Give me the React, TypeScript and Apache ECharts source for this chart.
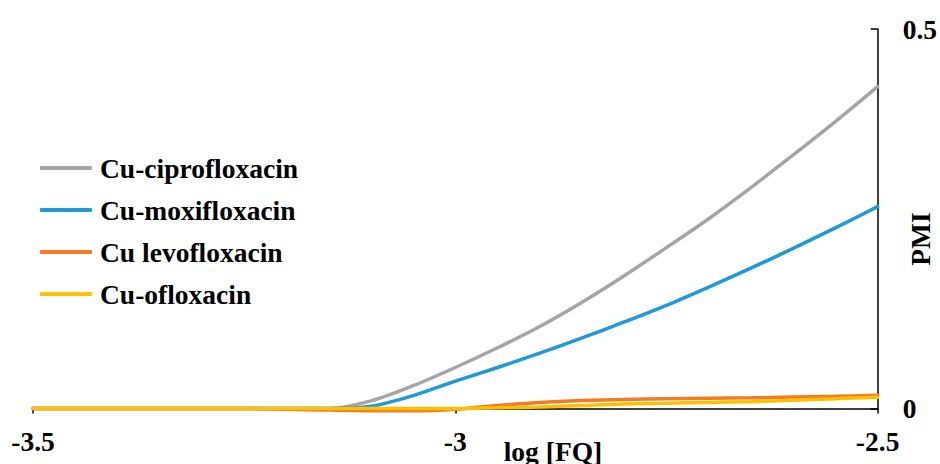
import React, { useEffect, useRef } from "react";
import * as echarts from "echarts";

const xs = [-3.5, -3.45, -3.4, -3.35, -3.3, -3.25, -3.2, -3.15, -3.1, -3.05, -3.0, -2.95, -2.9, -2.85, -2.8, -2.75, -2.7, -2.65, -2.6, -2.55, -2.5];
const ciprofloxacin = [0, 0, 0, 0, 0, 0, 0, 0, 0.01, 0.03, 0.054, 0.08, 0.108, 0.14, 0.175, 0.212, 0.25, 0.291, 0.334, 0.378, 0.424];
const moxifloxacin = [0, 0, 0, 0, 0, 0, 0, 0, 0.003, 0.017, 0.036, 0.054, 0.073, 0.093, 0.114, 0.136, 0.16, 0.185, 0.211, 0.238, 0.266];
const levofloxacin = [0, 0, 0, 0, 0, 0, -0.001, -0.002, -0.003, -0.003, -0.001, 0.004, 0.008, 0.0105, 0.012, 0.013, 0.0135, 0.014, 0.015, 0.016, 0.0175];
const ofloxacin = [0, 0, 0, 0, 0, 0, 0, 0, 0, 0, 0, 0.001, 0.002, 0.004, 0.006, 0.007, 0.008, 0.009, 0.011, 0.013, 0.0147];
const seriesNames = ["Cu-ciprofloxacin", "Cu-moxifloxacin", "Cu levofloxacin", "Cu-ofloxacin"];
const seriesColors = ["#A5A5A5", "#1E9AD6", "#F47B22", "#FFC000"];
const xTicks = [-3.5, -3, -2.5];
const yTicks = [0, 0.5];

const FONT = "'Liberation Serif', 'Times New Roman', serif";
const FS = 27.5;

export default function App() {
  const ref = useRef<HTMLDivElement>(null);
  useEffect(() => {
    if (!ref.current) return;
    const chart = echarts.init(ref.current, null, { renderer: "svg" });
    const all = [ciprofloxacin, moxifloxacin, levofloxacin, ofloxacin];
    chart.setOption({
      animation: false,
      backgroundColor: "#ffffff",
      grid: { left: 33, right: 61, top: 29, bottom: 55.5, containLabel: false },
      legend: {
        orient: "vertical",
        left: 40,
        top: 154,
        padding: 0,
        itemWidth: 52,
        itemHeight: 4,
        itemGap: 14,
        icon: "roundRect",
        data: seriesNames,
        textStyle: {
          fontFamily: FONT,
          fontWeight: "bold",
          fontSize: FS,
          color: "#000",
          padding: [0, 0, 0, 3],
        },
      },
      xAxis: {
        type: "value",
        min: xTicks[0],
        max: xTicks[xTicks.length - 1],
        interval: 0.5,
        splitLine: { show: false },
        axisLine: { show: true, lineStyle: { color: "#000", width: 1.5 } },
        axisTick: { show: true, inside: false, length: 5, lineStyle: { color: "#000", width: 1.5 } },
        axisLabel: {
          margin: 19,
          fontFamily: FONT,
          fontWeight: "bold",
          fontSize: FS,
          color: "#000",
          formatter: (v: number) => String(v),
        },
      },
      yAxis: {
        type: "value",
        position: "right",
        min: yTicks[0],
        max: yTicks[yTicks.length - 1],
        interval: 0.5,
        splitLine: { show: false },
        axisLine: { show: true, onZero: false, lineStyle: { color: "#000", width: 1.5 } },
        axisTick: { show: true, inside: true, length: 7, lineStyle: { color: "#000", width: 1.5 } },
        axisLabel: {
          margin: 25,
          fontFamily: FONT,
          fontWeight: "bold",
          fontSize: FS,
          color: "#000",
          formatter: (v: number) => String(v),
        },
      },
      graphic: [
        {
          type: "text",
          x: 553,
          y: 451,
          style: {
            text: "log [FQ]",
            fontFamily: FONT,
            fontWeight: "bold",
            fontSize: FS,
            fill: "#000",
            align: "center",
            verticalAlign: "middle",
          },
        },
        {
          type: "text",
          x: 920,
          y: 239,
          rotation: Math.PI / 2,
          style: {
            text: "PMI",
            fontFamily: FONT,
            fontWeight: "bold",
            fontSize: FS,
            fill: "#000",
            align: "center",
            verticalAlign: "middle",
          },
        },
      ],
      series: seriesNames.map((name, i) => ({
        name,
        type: "line",
        data: xs.map((x, j) => [x, all[i][j]]),
        symbol: "none",
        smooth: 0.3,
        clip: false,
        color: seriesColors[i],
        lineStyle: { color: seriesColors[i], width: 3.5, cap: "round" },
        itemStyle: { color: seriesColors[i] },
      })),
    });
    return () => chart.dispose();
  }, []);
  return (
    <div
      ref={ref}
      style={{ position: "absolute", left: 0, top: 0, width: 940, height: 464 }}
    />
  );
}
